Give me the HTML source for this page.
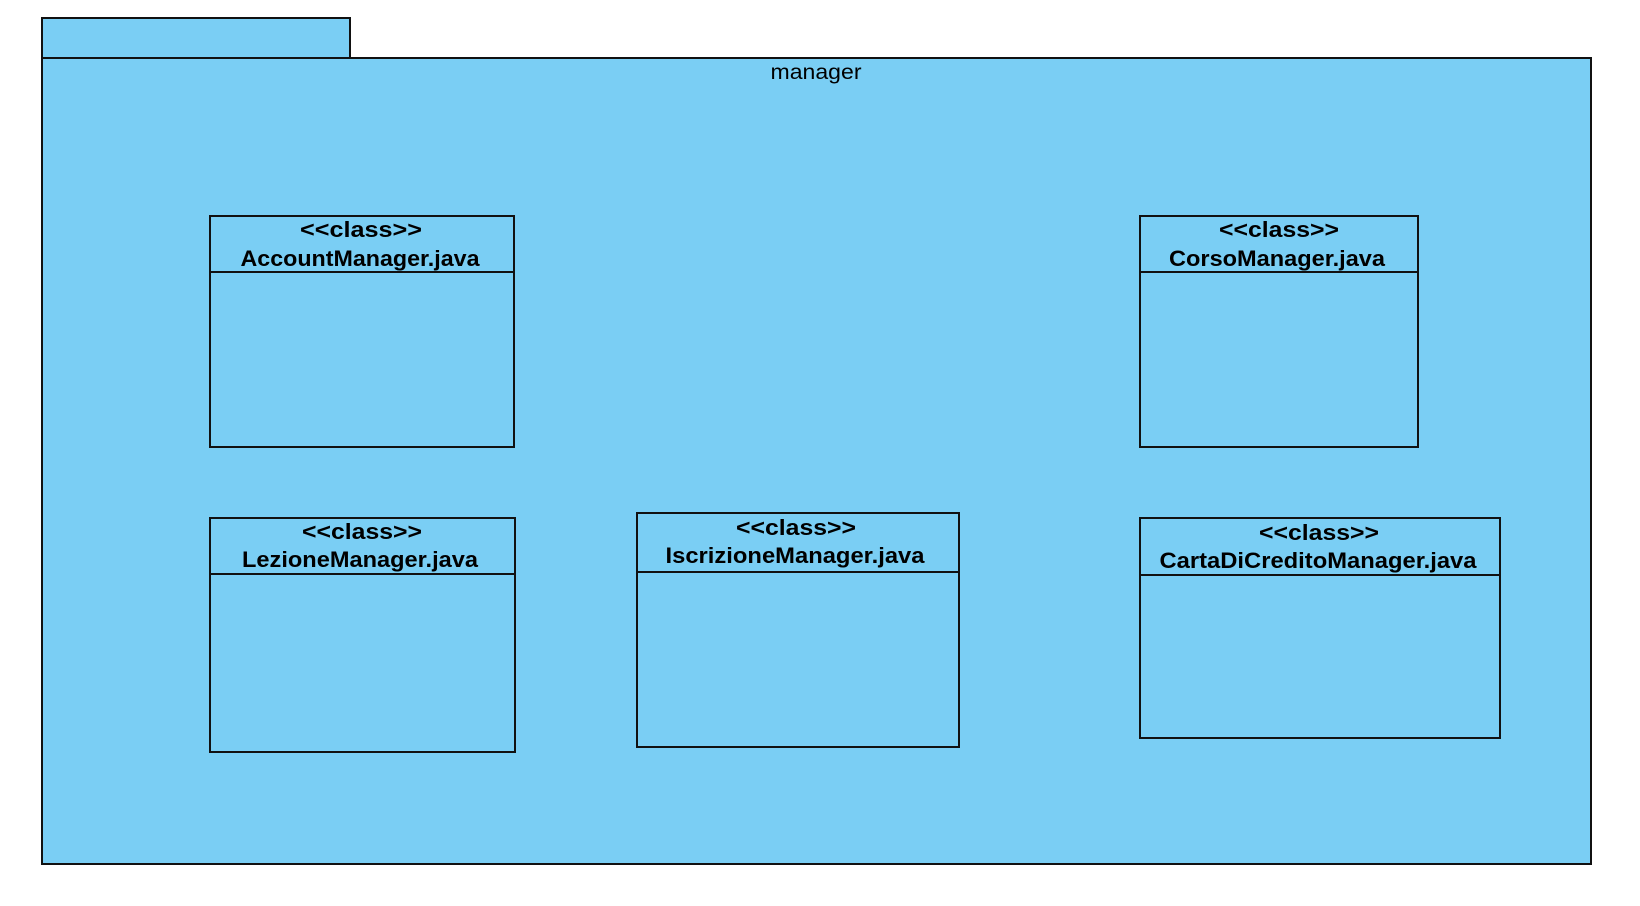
<!DOCTYPE html>
<html><head><meta charset="utf-8"><style>html,body{margin:0;padding:0;background:#fff;}svg{display:block}</style></head>
<body>
<svg width="1640" height="906" viewBox="0 0 1640 906" xmlns="http://www.w3.org/2000/svg" font-family="Liberation Sans, sans-serif">
<g fill="#7acef4" stroke="#111" stroke-width="2">
<rect x="42" y="18" width="308" height="40"/>
<rect x="42" y="58" width="1549" height="806"/>
<rect x="210" y="216" width="304" height="231"/><line x1="210" y1="272" x2="514" y2="272"/>
<rect x="1140" y="216" width="278" height="231"/><line x1="1140" y1="272" x2="1418" y2="272"/>
<rect x="210" y="518" width="305" height="234"/><line x1="210" y1="574" x2="515" y2="574"/>
<rect x="637" y="513" width="322" height="234"/><line x1="637" y1="572" x2="959" y2="572"/>
<rect x="1140" y="518" width="360" height="220"/><line x1="1140" y1="575" x2="1500" y2="575"/>
</g>
<g fill="#000" font-size="22" font-weight="bold" text-anchor="middle">
<text x="816" y="79" font-weight="normal" font-size="21" textLength="91" lengthAdjust="spacingAndGlyphs">manager</text>
<text x="361" y="237" textLength="122" lengthAdjust="spacingAndGlyphs">&lt;&lt;class&gt;&gt;</text>
<text x="360" y="266" textLength="239" lengthAdjust="spacingAndGlyphs">AccountManager.java</text>
<text x="1279" y="237" textLength="120" lengthAdjust="spacingAndGlyphs">&lt;&lt;class&gt;&gt;</text>
<text x="1277" y="266" textLength="216" lengthAdjust="spacingAndGlyphs">CorsoManager.java</text>
<text x="362" y="539" textLength="120" lengthAdjust="spacingAndGlyphs">&lt;&lt;class&gt;&gt;</text>
<text x="360" y="567" textLength="236" lengthAdjust="spacingAndGlyphs">LezioneManager.java</text>
<text x="796" y="535" textLength="120" lengthAdjust="spacingAndGlyphs">&lt;&lt;class&gt;&gt;</text>
<text x="795" y="563" textLength="259" lengthAdjust="spacingAndGlyphs">IscrizioneManager.java</text>
<text x="1319" y="540" textLength="120" lengthAdjust="spacingAndGlyphs">&lt;&lt;class&gt;&gt;</text>
<text x="1318" y="568" textLength="317" lengthAdjust="spacingAndGlyphs">CartaDiCreditoManager.java</text>
</g>
</svg>
</body></html>
